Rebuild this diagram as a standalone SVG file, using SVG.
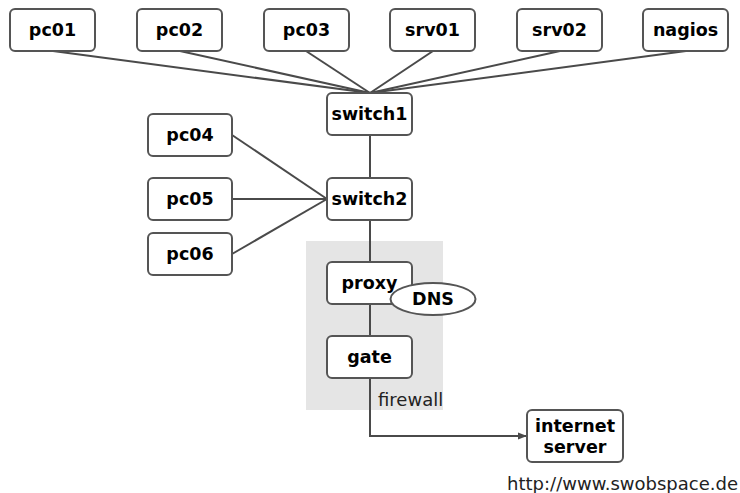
<svg xmlns="http://www.w3.org/2000/svg" width="740" height="493" viewBox="0 0 740 493">
<style>
.box{fill:#fff;stroke:#555;stroke-width:2}
.lbl{font-family:"DejaVu Sans",sans-serif;font-weight:bold;font-size:17.5px;fill:#000;text-anchor:middle}
.conn{stroke:#4a4a4a;stroke-width:2;fill:none}
.plain{font-family:"DejaVu Sans",sans-serif;font-size:18px;fill:#222}
</style>
<defs>
<marker id="arr" markerWidth="10" markerHeight="8" refX="9" refY="4" orient="auto" markerUnits="userSpaceOnUse">
<path d="M0,0.5 L9,4 L0,7.5 Z" fill="#4a4a4a"/>
</marker>
</defs>
<rect x="306" y="241" width="137" height="169" fill="#e5e5e5"/>
<text class="plain" x="378" y="406">firewall</text>
<g id="connectors">
<line class="conn" x1="53" y1="51" x2="370" y2="93"/>
<line class="conn" x1="180" y1="51" x2="370" y2="93"/>
<line class="conn" x1="306" y1="51" x2="370" y2="93"/>
<line class="conn" x1="433" y1="51" x2="370" y2="93"/>
<line class="conn" x1="560" y1="51" x2="370" y2="93"/>
<line class="conn" x1="686" y1="51" x2="370" y2="93"/>
<line class="conn" x1="370" y1="135" x2="370" y2="178"/>
<line class="conn" x1="232" y1="135" x2="327" y2="199"/>
<line class="conn" x1="232" y1="199" x2="327" y2="199"/>
<line class="conn" x1="232" y1="254" x2="327" y2="199"/>
<line class="conn" x1="370" y1="220" x2="370" y2="262"/>
<line class="conn" x1="370" y1="304" x2="370" y2="336"/>
<polyline class="conn" points="370,378 370,436 527,436" marker-end="url(#arr)"/>
</g>
<g id="pc01"><rect class="box" x="10" y="9" width="85" height="42" rx="5"/><text class="lbl" x="52.5" y="36">pc01</text></g>
<g id="pc02"><rect class="box" x="137" y="9" width="85" height="42" rx="5"/><text class="lbl" x="179.5" y="36">pc02</text></g>
<g id="pc03"><rect class="box" x="264" y="9" width="85" height="42" rx="5"/><text class="lbl" x="306.5" y="36">pc03</text></g>
<g id="srv01"><rect class="box" x="390" y="9" width="85" height="42" rx="5"/><text class="lbl" x="432.5" y="36">srv01</text></g>
<g id="srv02"><rect class="box" x="517" y="9" width="85" height="42" rx="5"/><text class="lbl" x="559.5" y="36">srv02</text></g>
<g id="nagios"><rect class="box" x="643" y="9" width="85" height="42" rx="5"/><text class="lbl" x="685.5" y="36">nagios</text></g>
<g id="switch1"><rect class="box" x="327" y="93" width="85" height="42" rx="5"/><text class="lbl" x="369.5" y="120">switch1</text></g>
<g id="pc04"><rect class="box" x="148" y="114" width="84" height="42" rx="5"/><text class="lbl" x="190" y="141">pc04</text></g>
<g id="switch2"><rect class="box" x="327" y="178" width="85" height="42" rx="5"/><text class="lbl" x="369.5" y="205">switch2</text></g>
<g id="pc05"><rect class="box" x="148" y="178" width="84" height="42" rx="5"/><text class="lbl" x="190" y="205">pc05</text></g>
<g id="pc06"><rect class="box" x="148" y="233" width="84" height="42" rx="5"/><text class="lbl" x="190" y="260">pc06</text></g>
<g id="proxy"><rect class="box" x="327" y="262" width="85" height="42" rx="5"/><text class="lbl" x="369.5" y="289">proxy</text></g>
<g id="DNS"><ellipse class="box" cx="433" cy="299" rx="42.5" ry="16"/><text class="lbl" x="433" y="305">DNS</text></g>
<g id="gate"><rect class="box" x="327" y="336" width="85" height="42" rx="5"/><text class="lbl" x="369.5" y="363">gate</text></g>
<g id="internet"><rect class="box" x="527" y="410" width="96" height="52" rx="5"/><text class="lbl" x="575" y="432">internet</text><text class="lbl" x="575" y="453">server</text></g>
<text class="plain" x="738" y="490" text-anchor="end">http://www.swobspace.de</text>
</svg>
